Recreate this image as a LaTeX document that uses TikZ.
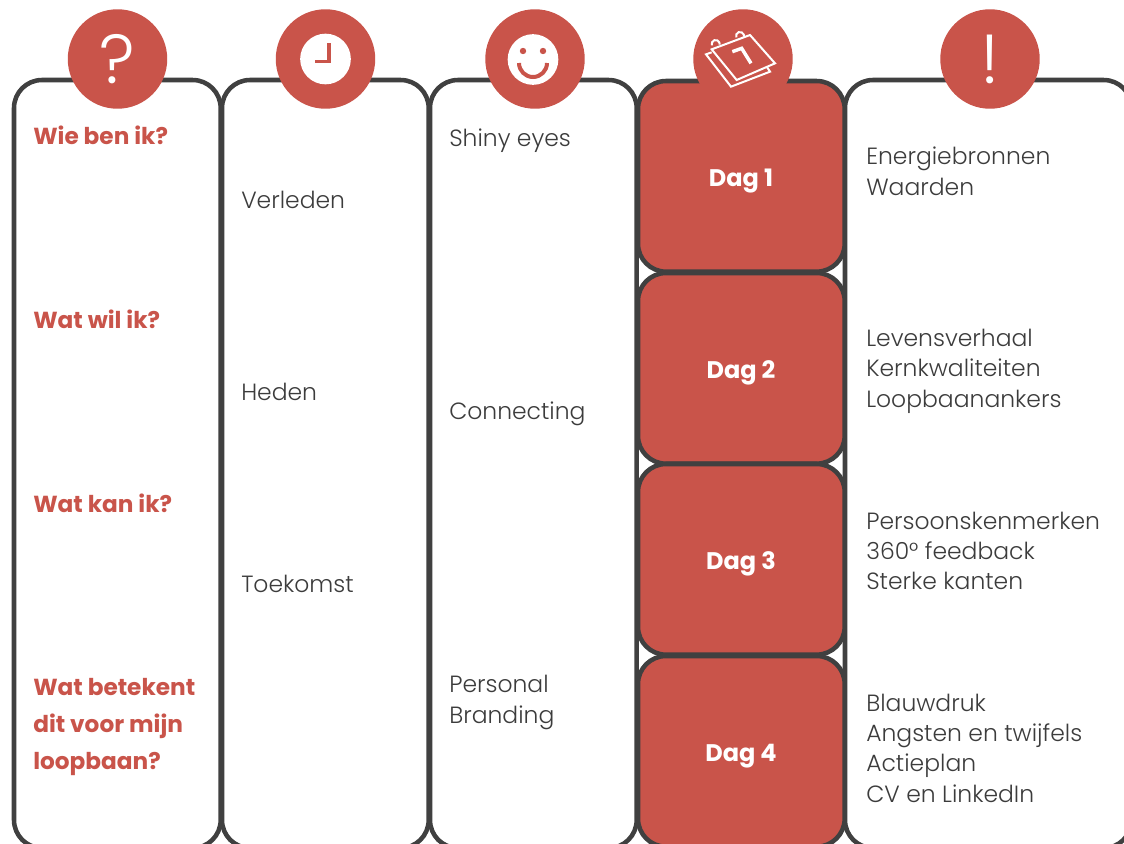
\documentclass[tikz,border=0pt]{standalone}
\usepackage{fontspec}
\setmainfont{Poppins Light}[BoldFont={Poppins Bold}]
\definecolor{brick}{HTML}{C9544A}
\definecolor{ink}{HTML}{404040}
\definecolor{txt}{HTML}{3C3C3C}
\tikzset{
  x=0.75pt,y=-0.75pt,
  panel/.style={draw=ink,line width=3.4pt,rounded corners=21pt,fill=white,minimum height=576pt,inner sep=0,outer sep=0,anchor=north west},
  redbox/.style={panel,fill=brick,minimum width=155pt,minimum height=143pt},
  badge/.style={circle,fill=brick,minimum size=74.6pt,inner sep=0,outer sep=0},
  face/.style={circle,fill=white,minimum size=38pt,inner sep=0,outer sep=0},
  head/.style={anchor=base west,inner sep=0,font=\fontsize{17.4}{20}\selectfont\bfseries,text=brick},
  body/.style={anchor=base west,inner sep=0,font=\fontsize{17.6}{20}\selectfont,text=txt},
  daylabel/.style={anchor=base,inner sep=0,font=\fontsize{18}{20}\selectfont\bfseries,text=white},
  bigsign/.style={inner sep=0,font=\fontsize{52}{60}\selectfont,text=white},
  iconline/.style={draw=white,line width=1.5pt,line join=miter}
}
\begin{document}
\begin{tikzpicture}
\useasboundingbox (0,0) rectangle (1124,843);
\clip (0,0) rectangle (1124,843);
\fill[white] (0,0) rectangle (1124,843);
% columns
\node[panel,minimum width=155pt] (c1) at (14,80) {};
\node[panel,minimum width=155pt] (c2) at (222,80) {};
\node[panel,minimum width=155pt] (c3) at (430,80) {};
\node[panel,minimum width=215pt] (c5) at (845,80) {};
% day boxes
\node[redbox] (d1) at (638,81) {};
\node[redbox] (d2) at (638,273) {};
\node[redbox] (d3) at (638,464) {};
\node[redbox] (d4) at (638,656) {};
% badges
\node[badge] (b1) at (117.5,59) {};
\node[badge] (b2) at (325.5,59) {};
\node[badge] (b3) at (535,59) {};
\node[badge] (b4) at (743,59) {};
\node[badge] (b5) at (990,59) {};
\node[bigsign] (q) at (117.5,59) {?};
\node[bigsign] (e) at (990,59) {!};
% clock
\node[face] (clock) at (325.5,59) {};
\draw[brick,line width=2.6pt] (329,43) -- (329,61.5) -- (315,61.5);
% smile
\node[face] (smile) at (533,59.5) {};
\fill[brick] (523,51) circle (3.2);
\fill[brick] (543,51) circle (3.2);
\draw[brick,line width=3pt] (519,63) arc[start angle=180,end angle=360,radius=10.5pt];
% calendar
\begin{scope}[shift={(695,20)},x=0.25pt,y=-0.25pt]
  \draw[iconline] (50,88) -- (165,45) -- (240,130) -- (125,180) -- cycle;
  \draw[iconline] (50,97) -- (33,103) -- (108,200) -- (225,155) -- (215,140);
  \draw[iconline] (50.7,76) arc[start angle=200,end angle=-10,radius=3pt];
  \draw[iconline] (123.7,52) arc[start angle=200,end angle=-10,radius=3pt];
  \draw[iconline,line width=2.6pt] (112,95) -- (140,85) -- (168,130);
\end{scope}
% text
\node[head] (h1) at (33,144) {Wie ben ik?};
\node[head] (h2) at (33,328) {Wat wil ik?};
\node[head] (h3) at (33,512) {Wat kan ik?};
\node[head] (h4a) at (33,695) {Wat betekent};
\node[head] (h4b) at (33,732) {dit voor mijn};
\node[head] (h4c) at (33,769) {loopbaan?};
\node[body] (t1) at (241,208) {Verleden};
\node[body] (t2) at (241,400) {Heden};
\node[body] (t3) at (241,592) {Toekomst};
\node[body] (s1) at (449,146) {Shiny eyes};
\node[body] (s2) at (449,419) {Connecting};
\node[body] (s3a) at (449,692) {Personal};
\node[body] (s3b) at (449,723) {Branding};
\node[daylabel] (l1) at (741,186) {Dag 1};
\node[daylabel] (l2) at (741,378) {Dag 2};
\node[daylabel] (l3) at (741,569) {Dag 3};
\node[daylabel] (l4) at (741,761) {Dag 4};
\node[body] (r1a) at (866,164) {Energiebronnen};
\node[body] (r1b) at (866,195) {Waarden};
\node[body] (r2a) at (866,346) {Levensverhaal};
\node[body] (r2b) at (866,376) {Kernkwaliteiten};
\node[body] (r2c) at (866,407) {Loopbaanankers};
\node[body] (r3a) at (866,529) {Persoonskenmerken};
\node[body] (r3b) at (866,559) {360° feedback};
\node[body] (r3c) at (866,589) {Sterke kanten};
\node[body] (r4a) at (866,711) {Blauwdruk};
\node[body] (r4b) at (866,741) {Angsten en twijfels};
\node[body] (r4c) at (866,771) {Actieplan};
\node[body] (r4d) at (866,802) {CV en LinkedIn};
\end{tikzpicture}
\end{document}
